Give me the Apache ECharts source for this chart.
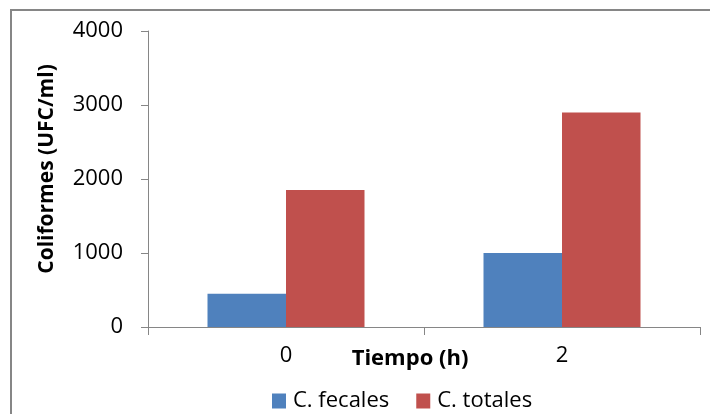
<!DOCTYPE html>
<html>
<head>
<meta charset="utf-8">
<script src="https://cdn.jsdelivr.net/npm/echarts@6/dist/echarts.min.js"></script>
<style>html,body{margin:0;padding:0;background:#fff;}#c{width:710px;height:414px;}</style>
</head>
<body>
<div id="c"></div>
<script>
var categories = ["0", "2"];
var seriesNames = ["C. fecales", "C. totales"];
var fecales = [450, 1000];
var totales = [1850, 2900];
var yTicks = [0, 1000, 2000, 3000, 4000];
var yTitle = "Coliformes (UFC/ml)";
var xTitle = "Tiempo (h)";

var FONT = "'Open Sans', 'Noto Sans', sans-serif";
var chart = echarts.init(document.getElementById('c'), null, {renderer: 'canvas'});
chart.setOption({
  animation: false,
  backgroundColor: '#ffffff',
  grid: {left: 148, top: 31, right: 10, bottom: 87, containLabel: false},
  legend: {
    data: seriesNames,
    left: 272, top: 390, padding: 0,
    icon: 'rect', itemWidth: 14, itemHeight: 15, itemGap: 27,
    textStyle: {fontFamily: FONT, fontSize: 22, color: '#000', padding: [0, 0, 0, 2]}
  },
  xAxis: {
    type: 'category', data: categories, boundaryGap: true,
    axisLine: {show: true, lineStyle: {color: '#868686', width: 1}},
    axisTick: {show: true, length: 8, alignWithLabel: false, lineStyle: {color: '#868686'}},
    axisLabel: {fontFamily: FONT, fontSize: 22, color: '#000', margin: 18},
    splitLine: {show: false}
  },
  yAxis: {
    type: 'value', min: yTicks[0], max: yTicks[yTicks.length - 1], interval: 1000,
    axisLine: {show: true, lineStyle: {color: '#868686', width: 1}},
    axisTick: {show: true, length: 7, lineStyle: {color: '#868686'}},
    axisLabel: {fontFamily: FONT, fontSize: 22, color: '#000', margin: 25,
                formatter: function (v) { return String(v); }},
    splitLine: {show: false}
  },
  series: [
    {name: seriesNames[0], type: 'bar', data: fecales, barWidth: 78.5, barGap: '0%',
     itemStyle: {color: '#4F81BD'}},
    {name: seriesNames[1], type: 'bar', data: totales, barWidth: 78.5, barGap: '0%',
     itemStyle: {color: '#C0504D'}}
  ],
  graphic: [
    {type: 'rect', shape: {x: 11, y: 10, width: 720, height: 420},
     style: {fill: 'none', stroke: '#868686', lineWidth: 2}, silent: true},
    {type: 'text', x: 47, y: 169, rotation: Math.PI / 2,
     style: {text: yTitle, fontFamily: FONT, fontSize: 21, fontWeight: 'bold', fill: '#000',
             textAlign: 'center', textVerticalAlign: 'middle'}},
    {type: 'text', x: 410, y: 359,
     style: {text: xTitle, fontFamily: FONT, fontSize: 22, fontWeight: 'bold', fill: '#000',
             textAlign: 'center', textVerticalAlign: 'middle'}}
  ]
});
</script>
</body>
</html>
